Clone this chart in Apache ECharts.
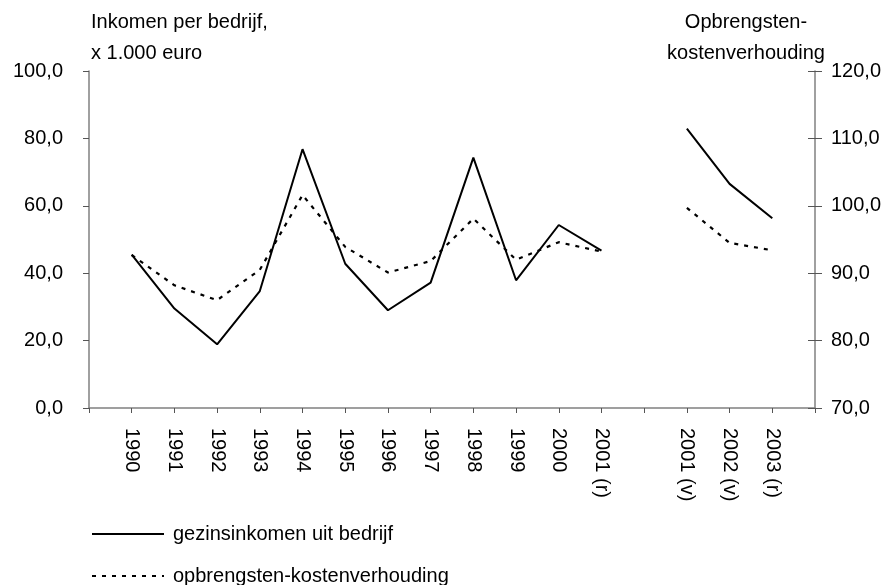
<!DOCTYPE html>
<html>
<head>
<meta charset="utf-8">
<script src="https://cdn.jsdelivr.net/npm/echarts@6/dist/echarts.min.js"></script>
<style>html,body{margin:0;padding:0;background:#fff}#c{width:888px;height:585px}</style>
</head>
<body>
<div id="c"></div>
<script>
const categories = ['', '1990', '1991', '1992', '1993', '1994', '1995', '1996', '1997', '1998', '1999', '2000', '2001 (r)', '', '2001 (v)', '2002 (v)', '2003 (r)', ''];
const inkomen = [null, 45.5, 29.5, 18.9, 34.7, 76.8, 42.8, 29.0, 37.2, 74.3, 37.9, 54.3, 46.7, null, 82.9, 66.5, 56.3, null];
const verhouding = [null, 92.7, 88.2, 86.0, 90.5, 101.6, 93.9, 90.1, 91.8, 98.1, 92.0, 94.6, 93.2, null, 99.7, 94.5, 93.4, null];
const seriesNames = ['gezinsinkomen uit bedrijf', 'opbrengsten-kostenverhouding'];
const leftTitle = 'Inkomen per bedrijf,\nx 1.000 euro';
const rightTitle = 'Opbrengsten-\nkostenverhouding';

const font = 'Liberation Sans, Arial, sans-serif';
const fmt = v => v.toFixed(1).replace('.', ',');
const legendBase = {
  orient: 'vertical',
  left: 91,
  padding: 0,
  itemWidth: 72,
  itemHeight: 14,
  itemStyle: { opacity: 0 },
  textStyle: { fontFamily: font, fontSize: 20, color: '#000', padding: [0, 0, 0, 4] }
};
const chart = echarts.init(document.getElementById('c'));
chart.setOption({
  animation: false,
  backgroundColor: '#fff',
  textStyle: { fontFamily: font },
  title: [
    { text: leftTitle, left: 86, top: 2, textStyle: { fontFamily: font, fontSize: 20, fontWeight: 'normal', color: '#000', lineHeight: 31 } },
    { text: rightTitle, left: 741, textAlign: 'center', top: 2, textStyle: { fontFamily: font, fontSize: 20, fontWeight: 'normal', color: '#000', lineHeight: 31 } }
  ],
  legend: [
    Object.assign({}, legendBase, { data: [seriesNames[0]], top: 524 }),
    Object.assign({}, legendBase, { data: [seriesNames[1]], top: 566 })
  ],
  grid: { left: 89, right: 73, top: 71, bottom: 177, containLabel: false },
  xAxis: {
    type: 'category',
    data: categories,
    boundaryGap: false,
    axisLine: { lineStyle: { color: '#808080', width: 1.5 } },
    axisTick: { interval: 0, length: 5, lineStyle: { color: '#555' } },
    axisLabel: { interval: 0, rotate: -90, margin: 20, fontSize: 20, color: '#000', fontFamily: font },
    splitLine: { show: false }
  },
  yAxis: [
    {
      type: 'value', min: 0, max: 100, interval: 20, position: 'left',
      axisLine: { show: true, lineStyle: { color: '#808080', width: 1.5 } },
      axisTick: { show: true, length: 6, lineStyle: { color: '#555' } },
      axisLabel: { formatter: fmt, margin: 26, fontSize: 20, color: '#000', fontFamily: font },
      splitLine: { show: false }
    },
    {
      type: 'value', min: 70, max: 120, interval: 10, position: 'right',
      axisLine: { show: true, lineStyle: { color: '#808080', width: 1.5 } },
      axisTick: { show: true, length: 7, lineStyle: { color: '#555' } },
      axisLabel: { formatter: fmt, margin: 16, fontSize: 20, color: '#000', fontFamily: font },
      splitLine: { show: false }
    },
    {
      type: 'value', min: 70, max: 120, interval: 10, position: 'right',
      axisLine: { show: false },
      axisTick: { show: true, inside: true, length: 7, lineStyle: { color: '#555' } },
      axisLabel: { show: false },
      splitLine: { show: false }
    }
  ],
  series: [
    {
      name: seriesNames[0], type: 'line', yAxisIndex: 0, data: inkomen,
      symbol: 'none', connectNulls: false,
      lineStyle: { color: '#000', width: 2 }, itemStyle: { color: '#000' }
    },
    {
      name: seriesNames[1], type: 'line', yAxisIndex: 1, data: verhouding,
      symbol: 'none', connectNulls: false,
      lineStyle: { color: '#000', width: 2.2, type: [4, 6] }, itemStyle: { color: '#000' }
    }
  ]
});
</script>
</body>
</html>
